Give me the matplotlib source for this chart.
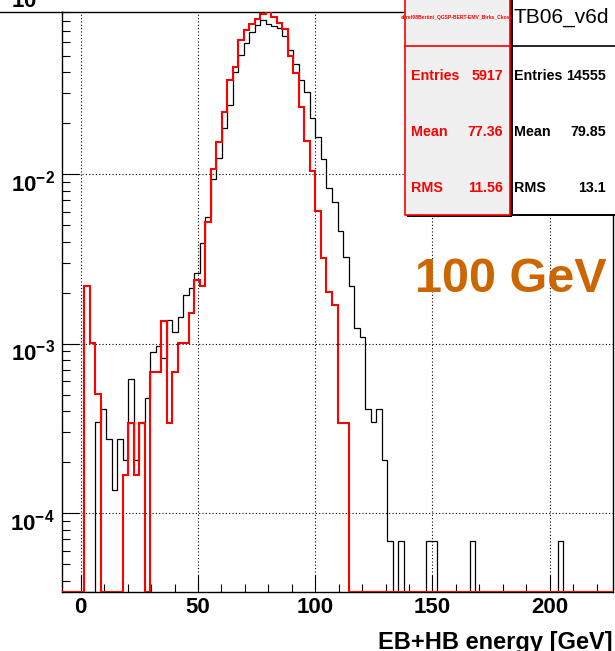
import numpy as np
import matplotlib
matplotlib.use("Agg")
import matplotlib.pyplot as plt
from matplotlib.patches import Rectangle
from matplotlib.ticker import MultipleLocator, FixedLocator, LogLocator, NullFormatter
from matplotlib import transforms

plt.rcParams["font.family"] = ["Liberation Sans", "DejaVu Sans"]
plt.rcParams["mathtext.fontset"] = "custom"
plt.rcParams["mathtext.rm"] = "Liberation Sans:bold"
plt.rcParams["mathtext.bf"] = "Liberation Sans:bold"
plt.rcParams["mathtext.it"] = "Liberation Sans:bold"

# histogram binning (100 bins)
x_lo, x_hi, n_bins = -8.0, 227.0, 100

# bin contents, black = TB06_v6d data, red = Bertini QGSP-BERT-EMV simulation
black_counts = [
    0, 0, 0, 0, 0, 0, 5, 6, 4, 2,
    4, 3, 9, 3, 5, 7, 13, 14, 12, 20,
    17, 21, 28, 31, 38, 57, 81, 136, 181, 271,
    371, 584, 733, 859, 997, 1102, 1178, 1116, 1087, 1062,
    952, 784, 649, 524, 445, 310, 242, 178, 121, 100,
    67, 47, 32, 18, 16, 6, 5, 6, 3, 1,
    0, 1, 0, 0, 0, 0, 1, 1, 0, 0,
    0, 0, 0, 0, 1, 0, 0, 0, 0, 0,
    0, 0, 0, 0, 0, 0, 0, 0, 0, 0,
    1, 0, 0, 0, 0, 0, 0, 0, 0, 0,
]
red_counts = [
    0, 0, 0, 0, 13, 6, 3, 0, 0, 0,
    0, 1, 2, 1, 2, 0, 4, 4, 8, 2,
    4, 6, 6, 9, 14, 13, 31, 63, 92, 138,
    212, 254, 366, 419, 452, 484, 518, 542, 501, 458,
    423, 295, 232, 148, 93, 62, 36, 19, 12, 10,
    2, 2, 0, 0, 0, 0, 0, 0, 0, 0,
    0, 0, 0, 0, 0, 0, 0, 0, 0, 0,
    0, 0, 0, 0, 0, 0, 0, 0, 0, 0,
    0, 0, 0, 0, 0, 0, 0, 0, 0, 0,
    0, 0, 0, 0, 0, 0, 0, 0, 0, 0,
]

black_stats = {"Entries": "14555", "Mean": "79.85", "RMS": "13.1"}
red_stats = {"Entries": "5917", "Mean": "77.36", "RMS": "11.56"}
black_title = "TB06_v6d"
red_title = "el.ref08Bertini_QGSP-BERT-EMV_Birks_Ckov1"

y_ticks = [1e-4, 1e-3, 1e-2]
y_labels = [r"$\mathbf{10^{-4}}$", r"$\mathbf{10^{-3}}$", r"$\mathbf{10^{-2}}$"]
top_label = r"$\mathbf{10^{-1}}$"

W, H = 615, 651
fig = plt.figure(figsize=(W / 100, H / 100), dpi=100)
ax = fig.add_axes([62 / W, 1 - 591.7 / H, 551 / W, (591.7 - 12) / H])

y_min, y_max = 3.44e-5, 0.0904
edges = np.linspace(x_lo, x_hi, n_bins + 1)
black = np.array(black_counts) / int(black_stats["Entries"])
red = np.array(red_counts) / int(red_stats["Entries"])
# empty bins sit on the bottom of the frame like in ROOT
black = np.where(black > 0, black, y_min)
red = np.where(red > 0, red, y_min)

ax.set_yscale("log")
ax.stairs(black, edges, baseline=None, color="black", lw=0.9, zorder=3)
ax.stairs(red, edges, baseline=None, color="#ff0000", lw=1.5, zorder=4)
ax.set_xlim(x_lo, x_hi)
ax.set_ylim(y_min, y_max)

ax.grid(True, which="major", color="black", linestyle=(0, (1, 2)), linewidth=0.8)
ax.set_axisbelow(True)

ax.xaxis.set_major_locator(MultipleLocator(50))
ax.xaxis.set_minor_locator(MultipleLocator(10))
ax.yaxis.set_major_locator(FixedLocator(y_ticks))
ax.yaxis.set_major_formatter(NullFormatter())
ax.yaxis.set_minor_locator(LogLocator(base=10, subs=range(2, 10), numticks=20))
ax.yaxis.set_minor_formatter(NullFormatter())
ax.tick_params(which="both", direction="in", top=False, right=False, width=0.8)
ax.tick_params(which="major", length=12)
ax.tick_params(which="minor", length=6)
ax.tick_params(axis="x", pad=4, labelsize=16)
for lab in ax.get_xticklabels():
    lab.set_fontweight("bold")
for s in ax.spines.values():
    s.set_linewidth(1.0)

# y labels hang below their tick, ROOT style
tr = transforms.blended_transform_factory(ax.transAxes, ax.transData)
tr_lab = transforms.offset_copy(tr, fig=fig, x=0, y=-17, units="dots")
for t, lab in zip(y_ticks, y_labels):
    ax.text(-7 / 551, t, lab, transform=tr_lab, ha="right", va="baseline",
            fontsize=16, clip_on=False)


def fx(px):
    return px / W


def fy(py):
    return 1 - py / H


def box(x0, y0, x1, y1, **kw):
    r = Rectangle((fx(x0), fy(y1)), (x1 - x0) / W, (y1 - y0) / H,
                  transform=fig.transFigure, clip_on=False, **kw)
    fig.patches.append(r)


# label of the decade above, cut by the canvas top
fig.text(fx(55), fy(7.5), top_label, ha="right", va="baseline", fontsize=16)
# pad border along the top
fig.lines.append(plt.Line2D([0, fx(62)], [fy(12), fy(12)], color="black",
                            lw=1.0, transform=fig.transFigure))

# stat boxes
box(407, -10, 512, 217, facecolor="black", edgecolor="none", zorder=5)
box(405, -10, 510, 215, facecolor="#f0f0f0", edgecolor="#ff0000", lw=1.2, zorder=6)
box(512, -10, 630, 215, facecolor="white", edgecolor="black", lw=1.4, zorder=6)
fig.lines.append(plt.Line2D([fx(405), fx(510)], [fy(46), fy(46)], color="#ff0000",
                            lw=1.2, transform=fig.transFigure, zorder=7))
fig.lines.append(plt.Line2D([fx(512), fx(615)], [fy(46), fy(46)], color="black",
                            lw=1.2, transform=fig.transFigure, zorder=7))

fig.text(fx(457), fy(17), red_title, color="#ff0000", fontsize=3.6,
         fontweight="bold", ha="center", va="center", zorder=8)
fig.text(fx(561), fy(17.5), black_title, color="black", fontsize=15,
         ha="center", va="center", zorder=8)

row_y = [76, 131.7, 187.7]
for (name, val), y in zip(red_stats.items(), row_y):
    fig.text(fx(411), fy(y), name, color="#ff0000", fontsize=10.3,
             fontweight="bold", ha="left", va="center", zorder=8)
    fig.text(fx(503), fy(y), val, color="#ff0000", fontsize=10.3,
             fontweight="bold", ha="right", va="center", zorder=8)
for (name, val), y in zip(black_stats.items(), row_y):
    fig.text(fx(514), fy(y), name, color="black", fontsize=10.3,
             fontweight="bold", ha="left", va="center", zorder=8)
    fig.text(fx(606), fy(y), val, color="black", fontsize=10.3,
             fontweight="bold", ha="right", va="center", zorder=8)

fig.text(fx(415), fy(292), "100 GeV", color="#cc6600", fontsize=35,
         fontweight="bold", ha="left", va="baseline")

fig.text(fx(613), fy(649), "EB+HB energy [GeV]", fontsize=17,
         fontweight="bold", ha="right", va="baseline")

fig.savefig("out.png", dpi=100)
